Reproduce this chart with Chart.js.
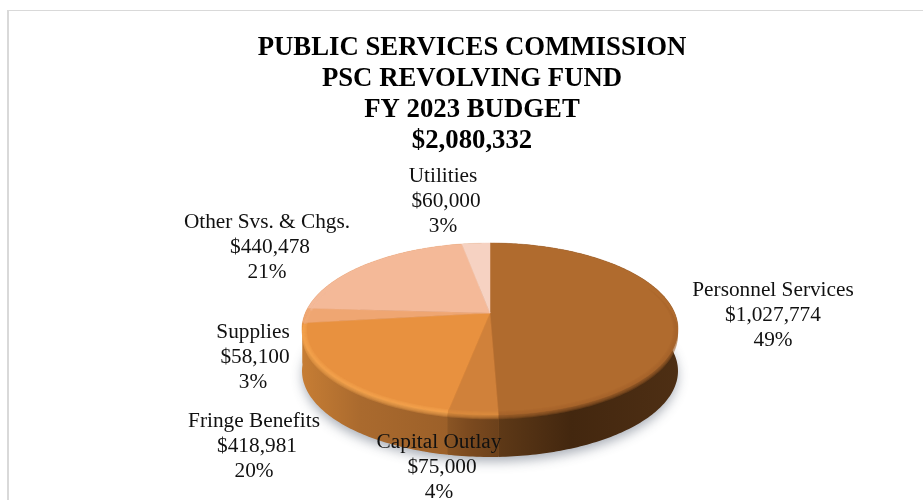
<!DOCTYPE html>
<html>
<head>
<meta charset="utf-8">
<title>PSC Revolving Fund</title>
<script src="https://cdn.jsdelivr.net/npm/chart.js@4"></script>
<style>
    html, body { margin: 0; padding: 0; width: 923px; height: 500px; overflow: hidden; background: #fff; }
    #frame { position: absolute; left: 7px; top: 10px; width: 930px; height: 490px; border-left: 2px solid #d9d9d9; border-top: 1px solid #d9d9d9; }
    canvas { display: block; }
</style>
</head>
<body>
<div id="frame"><canvas id="chart" width="926" height="489"></canvas></div>
<script>
const titleLines = ['PUBLIC SERVICES COMMISSION', 'PSC REVOLVING FUND', 'FY 2023 BUDGET', '$2,080,332'];
const categories = ['Personnel Services', 'Capital Outlay', 'Fringe Benefits', 'Supplies', 'Other Svs. & Chgs.', 'Utilities'];
const amounts = [1027774, 75000, 418981, 58100, 440478, 60000];
const amountLabels = ['$1,027,774', '$75,000', '$418,981', '$58,100', '$440,478', '$60,000'];
const percentLabels = ['49%', '4%', '20%', '3%', '21%', '3%'];
const sliceColors = ['#b06b2e', '#d0813a', '#e8913f', '#efa672', '#f4b998', '#f6d2c2'];

// pie projection, canvas px
const pieX = 481, pieY = 302, pieA = 184.7, pieB = 83, pieK = 0.186, pieDepth = 42;

const wallColors = [
    ['#5e3917', '#43270f', '#4e2f14'],
    ['#8a5524', '#7c4a1f', '#6c411b'],
    ['#c67d34', '#aa6a2e', '#9c6029'],
    ['#c67d34', '#c67d34', '#c67d34'],
    ['#c67d34', '#c67d34', '#c67d34'],
    ['#c67d34', '#c67d34', '#c67d34']
];
const rimColors = ['#a4632a', '#dd8f3e', '#f6a650', '#f2ad78', '#f5bd9e', '#f7d6c8'];

const labelSpots = [[764, 279], [430, 431], [245, 410], [244, 321], [258, 211], [434, 165]];
const amountNudge = [0, 3, 3, 2, 3, 3];

function project(theta, r, dy) {
    const X = r * Math.sin(theta), Y = r * Math.cos(theta);
    const den = 1 + pieK * Y;
    return [pieX + pieA * X / den, pieY - pieB * Y / den + dy];
}

function traceRim(ctx, from, to, r, dy, move) {
    const steps = Math.max(4, Math.ceil(Math.abs(to - from) * 60));
    for (let i = 0; i <= steps; i++) {
        const p = project(from + (to - from) * i / steps, r, dy);
        if (i === 0 && move) ctx.moveTo(p[0], p[1]);
        else ctx.lineTo(p[0], p[1]);
    }
}

const pie3d = {
    id: 'pie3d',
    beforeDatasetDraw(chart, args) {
        const ctx = chart.ctx;
        const arcs = chart.getDatasetMeta(args.index).data;
        const spans = arcs.map(a => [a.startAngle + Math.PI / 2, a.endAngle + Math.PI / 2]);

        // soft shadow under the disc
        ctx.save();
        ctx.shadowColor = 'rgba(60,70,90,0.45)';
        ctx.shadowBlur = 12;
        ctx.shadowOffsetY = 5;
        ctx.fillStyle = '#8a5524';
        ctx.beginPath();
        traceRim(ctx, 0, Math.PI * 2, 0.995, pieDepth, true);
        ctx.closePath();
        ctx.fill();
        ctx.restore();

        // side wall
        spans.forEach((s, i) => {
            const xa = project(s[0], 1, 0)[0], xb = project(s[1], 1, 0)[0];
            const x0 = i === 0 ? xb : Math.min(xa, xb);
            const x1 = i === 0 ? pieX + 190 : Math.max(xa, xb);
            const grad = ctx.createLinearGradient(x0, 0, x1, 0);
            grad.addColorStop(0, wallColors[i][0]);
            grad.addColorStop(0.4, wallColors[i][1]);
            grad.addColorStop(1, wallColors[i][2]);
            ctx.fillStyle = grad;
            ctx.beginPath();
            traceRim(ctx, s[0], s[1], 1, 0, true);
            traceRim(ctx, s[1], s[0], 1, pieDepth, false);
            ctx.closePath();
            ctx.fill();
        });

        // top face
        spans.forEach((s, i) => {
            ctx.fillStyle = sliceColors[i];
            ctx.strokeStyle = sliceColors[i];
            ctx.lineWidth = 0.5;
            ctx.beginPath();
            ctx.moveTo(pieX, pieY);
            traceRim(ctx, s[0], s[1], 1, 0, false);
            ctx.closePath();
            ctx.fill();
            ctx.stroke();
        });

        // bevel: soft band along the front rim, blending face into wall
        ctx.save();
        ctx.beginPath();
        traceRim(ctx, 0, Math.PI * 2, 1, 6, true);
        ctx.closePath();
        ctx.clip();
        spans.forEach((s, i) => {
            const from = Math.max(s[0], 1.2), to = Math.min(s[1], Math.PI * 2 - 1.2);
            if (to <= from) return;
            ctx.strokeStyle = rimColors[i];
            ctx.globalAlpha = 0.3;
            [8, 6, 4, 2].forEach(w => {
                ctx.lineWidth = w;
                ctx.beginPath();
                traceRim(ctx, from, to, 0.995, 1, true);
                ctx.stroke();
            });
        });
        ctx.restore();
        return false;
    },
    afterDraw(chart) {
        const ctx = chart.ctx;
        ctx.save();
        ctx.fillStyle = '#111';
        ctx.font = '21.3px "Liberation Serif"';
        ctx.textAlign = 'center';
        ctx.textBaseline = 'middle';
        categories.forEach((name, i) => {
            const [x, y] = labelSpots[i];
            ctx.fillText(name, x, y);
            ctx.fillText(amountLabels[i], x + amountNudge[i], y + 25);
            ctx.fillText(percentLabels[i], x, y + 50);
        });
        ctx.restore();
    }
};

new Chart(document.getElementById('chart').getContext('2d'), {
    type: 'pie',
    data: {
        labels: categories,
        datasets: [{ data: amounts, backgroundColor: sliceColors, borderWidth: 0 }]
    },
    options: {
        responsive: false,
        animation: false,
        events: [],
        plugins: {
            legend: { display: false },
            tooltip: { enabled: false },
            title: {
                display: true,
                text: titleLines,
                color: '#000',
                font: { family: '"Liberation Serif"', size: 26.75, weight: 'bold', lineHeight: 1.15 },
                padding: { top: 22, bottom: 8 }
            }
        }
    },
    plugins: [pie3d]
});
</script>
</body>
</html>
